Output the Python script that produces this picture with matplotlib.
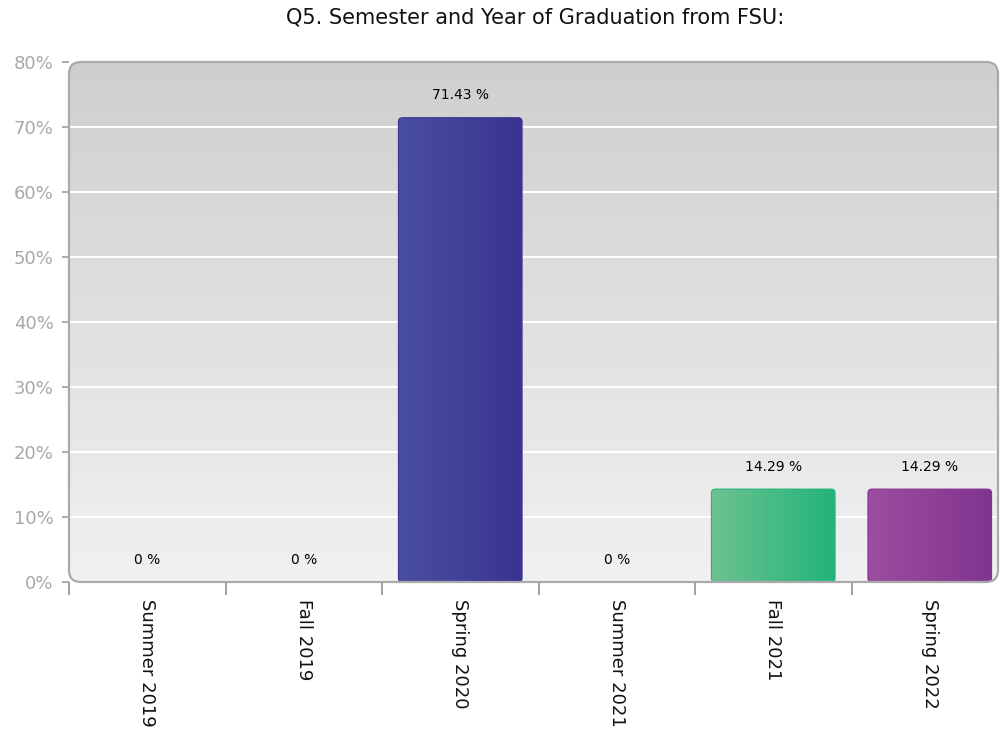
import numpy as np
import matplotlib
matplotlib.use("Agg")
import matplotlib.pyplot as plt
from matplotlib.patches import FancyBboxPatch
from matplotlib.colors import LinearSegmentedColormap

# ---- data ----
categories = ["Summer 2019", "Fall 2019", "Spring 2020", "Summer 2021", "Fall 2021", "Spring 2022"]
values = [0, 0, 71.43, 0, 14.29, 14.29]
value_labels = ["0 %", "0 %", "71.43 %", "0 %", "14.29 %", "14.29 %"]
ytick_values = [0, 10, 20, 30, 40, 50, 60, 70, 80]
ytick_labels = ["0%", "10%", "20%", "30%", "40%", "50%", "60%", "70%", "80%"]
title = "Q5. Semester and Year of Graduation from FSU:"

# gradient colours (left, right) per bar
bar_grads = [
    ("#4a4fa0", "#3a3490"),
    ("#4a4fa0", "#3a3490"),
    ("#4a4fa0", "#3a3490"),
    ("#4a4fa0", "#3a3490"),
    ("#6cc290", "#22b47a"),
    ("#9b4d9f", "#82358f"),
]

plt.rcParams['font.family'] = ['DejaVu Sans']
W, H = 1003, 732
fig = plt.figure(figsize=(W / 100, H / 100), dpi=100)
ax_l, ax_r, ax_b, ax_t = 69, 1008, 582, 62
ax = fig.add_axes([ax_l / W, (H - ax_b) / H, (ax_r - ax_l) / W, (ax_b - ax_t) / H])
axw, axh = ax_r - ax_l, ax_b - ax_t

ax.patch.set_visible(False)
for s in ax.spines.values():
    s.set_visible(False)

# background rounded box with vertical gradient
box_right = 998
bw_frac = (box_right - ax_l) / axw
rad = 12
bg = FancyBboxPatch((0, 0), bw_frac, 1, boxstyle=f"round,pad=0,rounding_size={rad / axw}",
                    mutation_aspect=axw / axh, transform=ax.transAxes,
                    facecolor="none", edgecolor="#aaaaaa", linewidth=1.6, zorder=3, clip_on=False)
ax.add_patch(bg)
grad = np.linspace(0, 1, 256).reshape(-1, 1)
bgcmap = LinearSegmentedColormap.from_list("bg", ["#f1f1f1", "#cfcfcf"])
im = ax.imshow(grad, cmap=bgcmap, origin="lower", extent=(0, bw_frac, 0, 1),
               transform=ax.transAxes, aspect="auto", zorder=0)
im.set_clip_path(bg)
ax.set_xlim(-0.5, len(categories) - 0.5)
ax.set_ylim(0, 80)

# gridlines
for yv in ytick_values[1:-1]:
    ax.plot([0, bw_frac], [yv / 80, yv / 80], transform=ax.transAxes,
            color="white", linewidth=1.5, zorder=1)

# bars
bw = 0.79
x = np.arange(len(categories))
bars = ax.bar(x, values, width=bw, color="none", edgecolor="none", zorder=2)
px_x = (len(categories)) / axw
px_y = 80 / axh
for i, (b, v) in enumerate(zip(bars, values)):
    if v <= 0:
        continue
    x0, w, h = b.get_x(), b.get_width(), b.get_height()
    r = 4 * px_x
    clip = FancyBboxPatch((x0, 0), w, h, boxstyle=f"round,pad=0,rounding_size={r}",
                          mutation_aspect=px_y / px_x, facecolor="none",
                          edgecolor=bar_grads[i][1], linewidth=0.8, zorder=2.5)
    ax.add_patch(clip)
    cm = LinearSegmentedColormap.from_list(f"b{i}", list(bar_grads[i]))
    g = ax.imshow(np.linspace(0, 1, 128).reshape(1, -1), cmap=cm, extent=(x0, x0 + w, 0, h),
                  aspect="auto", zorder=2)
    g.set_clip_path(clip)
ax.set_xlim(-0.5, len(categories) - 0.5)
ax.set_ylim(0, 80)

# value labels
for xi, v, lab in zip(x, values, value_labels):
    ax.annotate(lab, (xi, v), xytext=(0, 11), textcoords="offset points",
                ha="center", va="bottom", fontsize=10, color="#000000", zorder=5)

# ticks
ax.set_yticks(ytick_values)
ax.set_yticklabels(ytick_labels, fontsize=13, color="#a8a8a8")
ax.tick_params(axis="y", length=5, color="#a0a0a0", width=1.2, pad=6)
ax.set_xticks(x)
ax.set_xticklabels(categories, rotation=270, fontsize=13, color="#111111", va="top", ha="center")
ax.tick_params(axis="x", which="major", length=0, pad=12)
ax.set_xticks(np.arange(-0.5, len(categories), 1.0), minor=True)
ax.tick_params(axis="x", which="minor", length=9, color="#a0a0a0", width=1.4)

fig.text(535 / W, 1 - 18 / H, title, ha="center", va="center",
         fontsize=15, color="#111111")

fig.savefig("out.png", dpi=100)
